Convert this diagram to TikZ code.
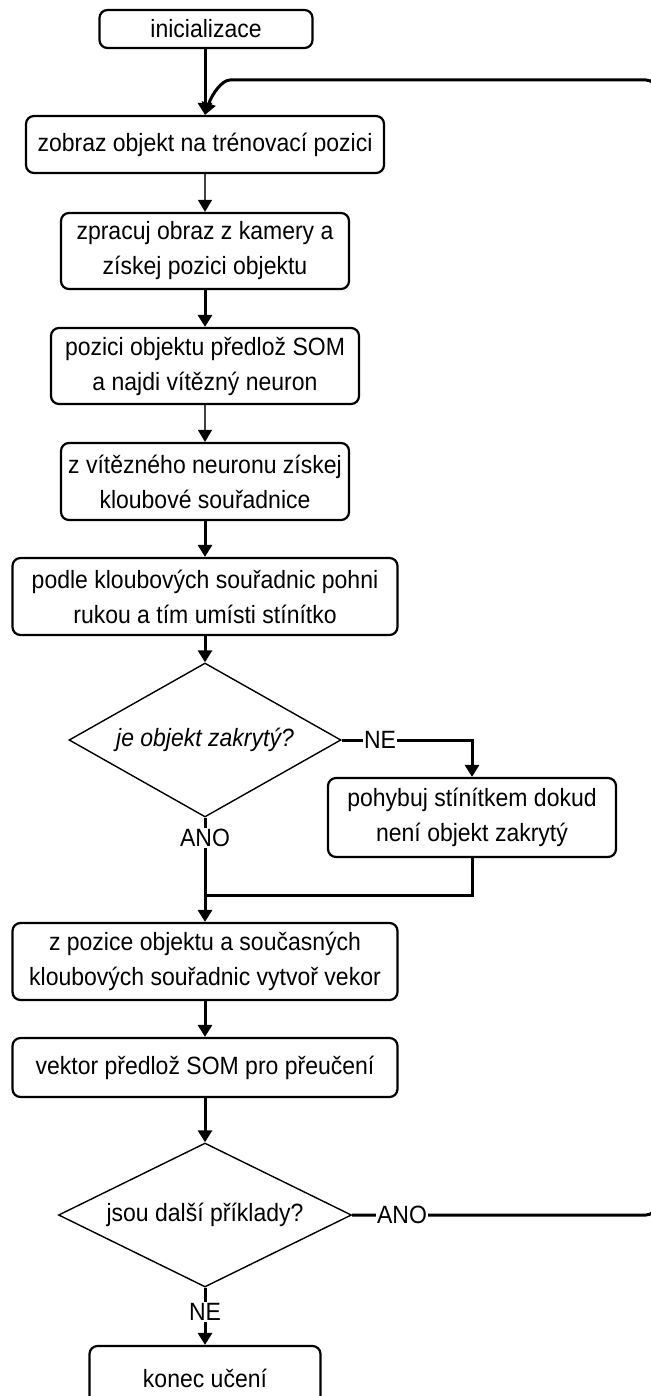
\documentclass[tikz,border=0pt]{standalone}
\usepackage{fontspec}
\setmainfont{Liberation Sans}[FakeStretch=0.92]
\usetikzlibrary{shapes.geometric,arrows.meta}
\begin{document}
\begin{tikzpicture}[x=1pt,y=-1pt,
  every node/.style={font=\fontsize{25}{35}\selectfont},
  stepbox/.style={draw, line width=2.2pt, rounded corners=8pt, align=center, inner sep=0pt},
  decision/.style={draw, shape=diamond, line width=1.4pt, aspect=2, inner sep=0pt, align=center},
  lbl/.style={fill=white, inner sep=1pt},
  conn/.style={line width=3pt},
  arr/.style={line width=3pt, -{Triangle[length=12pt,width=14pt]}},
  thinarr/.style={line width=1.5pt, draw=black!75, -{Triangle[length=12pt,width=14pt,fill=black,color=black]}},
]
\useasboundingbox (0,0) rectangle (650,1396);

\node[stepbox, minimum width=213pt, minimum height=38pt] (init) at (206,29) {inicializace};
\node[stepbox, minimum width=358pt, minimum height=57pt] (zobraz) at (205,144.5) {zobraz objekt na trénovací pozici};
\node[stepbox, minimum width=288pt, minimum height=76pt] (zprac) at (205,251) {zpracuj obraz z kamery a\\získej pozici objektu};
\node[stepbox, minimum width=308pt, minimum height=76pt] (pozici) at (205,366) {pozici objektu předlož SOM\\a najdi vítězný neuron};
\node[stepbox, minimum width=288pt, minimum height=77pt] (vitez) at (205,481.5) {z vítězného neuronu získej\\kloubové souřadnice};
\node[stepbox, minimum width=385pt, minimum height=77pt] (podle) at (205,596.5) {podle kloubových souřadnic pohni\\rukou a tím umísti stínítko};
\node[decision, minimum width=272pt, minimum height=154pt] (d1) at (205,740) {\textit{je objekt zakrytý?}};
\node[stepbox, minimum width=288pt, minimum height=79pt] (pohyb) at (472,817.5) {pohybuj stínítkem dokud\\není objekt zakrytý};
\coordinate (join) at (205,895);
\node[stepbox, minimum width=385pt, minimum height=77pt] (zpoz) at (205,961.5) {z pozice objektu a současných\\kloubových souřadnic vytvoř vekor};
\node[stepbox, minimum width=385pt, minimum height=59pt] (vektor) at (205,1067.5) {vektor předlož SOM pro přeučení};
\node[decision, minimum width=293pt, minimum height=144pt] (d2) at (205,1215) {jsou další příklady?};
\node[stepbox, minimum width=231pt, minimum height=64pt] (konec) at (205,1378) {konec učení};

% connectors
\draw[arr] (init.south -| zobraz.north) -- (zobraz.north);
\draw[arr, rounded corners=10pt] (d2.east) -- (656,1215) -- (656,80) -- (240,80) .. controls (222,80) and (212,94) .. (zobraz.north);
\draw[thinarr] (zobraz.south) -- (zprac.north);
\draw[arr] (zprac.south) -- (pozici.north);
\draw[thinarr] (pozici.south) -- (vitez.north);
\draw[arr] (vitez.south) -- (podle.north);
\draw[arr] (podle.south) -- (d1.north);
\draw[arr] (d1.east) -| (pohyb.north);
\draw[conn] (d1.south) -- (join);
\draw[conn] (pohyb.south) |- (join);
\draw[arr] (join) -- (zpoz.north);
\draw[arr] (zpoz.south) -- (vektor.north);
\draw[arr] (vektor.south) -- (d2.north);
\draw[arr] (d2.south) -- (konec.north);

% labels
\node[lbl] (ne1) at (380,740) {NE};
\node[lbl] (ano1) at (205,838) {ANO};
\node[lbl] (ano2) at (402,1215) {ANO};
\node[lbl] (ne2) at (205,1312) {NE};
\end{tikzpicture}
\end{document}
